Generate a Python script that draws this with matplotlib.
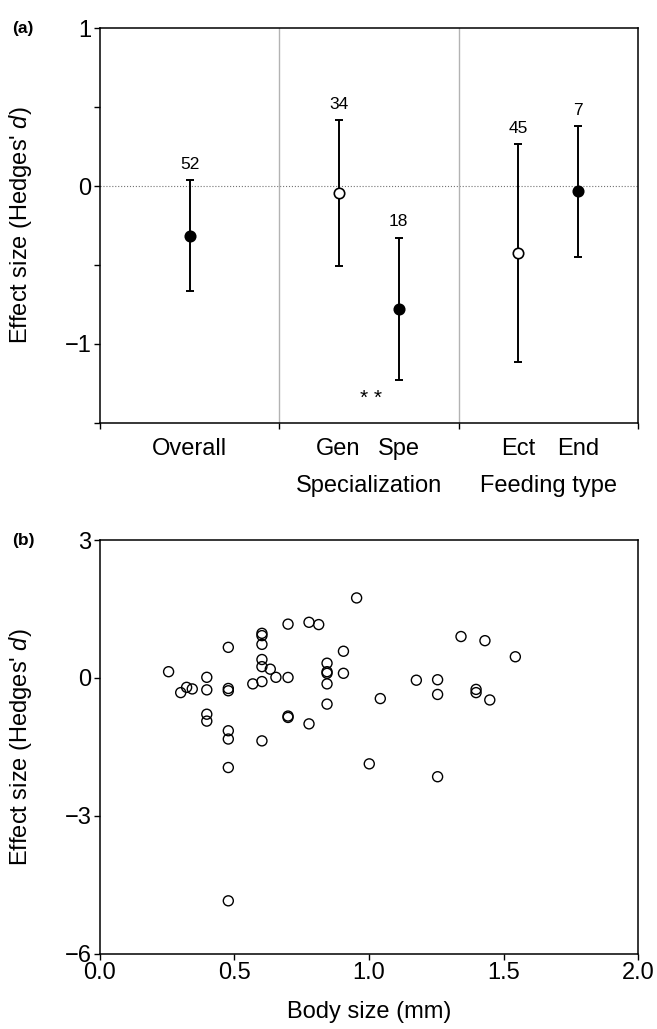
import numpy as np
import matplotlib
matplotlib.use("Agg")
import matplotlib.pyplot as plt
import matplotlib.transforms as mtransforms

plt.rcParams['font.family'] = ['Liberation Sans', 'DejaVu Sans']
plt.rcParams['mathtext.fontset'] = 'custom'
plt.rcParams['mathtext.it'] = 'Liberation Sans:italic'
plt.rcParams['mathtext.rm'] = 'Liberation Sans'

# panel (a): mean effect sizes with 95% CI
groups = ['Overall', 'Gen', 'Spe', 'Ect', 'End']
group_x = [0.5, 1.33, 1.665, 2.33, 2.665]
means = [-0.315, -0.045, -0.78, -0.426, -0.034]
ci_low = [-0.667, -0.508, -1.229, -1.116, -0.447]
ci_high = [0.036, 0.417, -0.327, 0.265, 0.381]
n_studies = [52, 34, 18, 45, 7]
filled = [True, False, True, False, True]
sections = ['Specialization', 'Feeding type']

# panel (b): effect size vs body size
body_size = [0.255, 0.300, 0.322, 0.343, 0.397, 0.397, 0.397, 0.397,
             0.477, 0.477, 0.477, 0.477, 0.477, 0.477, 0.477,
             0.568, 0.602, 0.602, 0.602, 0.602, 0.602, 0.602, 0.602,
             0.633, 0.654, 0.699, 0.699, 0.699, 0.699,
             0.777, 0.813, 0.777, 0.844, 0.844, 0.844, 0.844, 0.844,
             0.905, 0.905, 0.954, 1.001, 1.042,
             1.176, 1.255, 1.255, 1.255, 1.342, 1.431, 1.544,
             1.398, 1.398, 1.449]
effect = [0.135, -0.32, -0.205, -0.24, 0.013, -0.26, -0.79, -0.94,
          0.665, -0.23, -0.28, -1.15, -1.33, -1.95, -4.85,
          -0.13, 0.97, 0.92, 0.73, 0.40, 0.245, -0.08, -1.37,
          0.19, 0.013, 1.17, 0.01, -0.83, -0.86,
          1.21, 1.16, -1.0, 0.32, 0.135, 0.10, -0.13, -0.57,
          0.58, 0.10, 1.74, -1.87, -0.45,
          -0.05, -0.04, -0.36, -2.15, 0.90, 0.81, 0.46,
          -0.25, -0.32, -0.48]

LABEL_FS = 17
ylabel = r"Effect size (Hedges' $\it{d}$)"

fig = plt.figure(figsize=(6.57, 10.29), dpi=100)
ax1 = fig.add_axes([0.1522, 0.5893, 0.8189, 0.3832])
ax2 = fig.add_axes([0.1522, 0.0732, 0.8189, 0.4020])

for ax in (ax1, ax2):
    for sp in ax.spines.values():
        sp.set_linewidth(1.1)
    ax.tick_params(direction='out', length=4, width=1.0, labelsize=LABEL_FS, pad=2)

# --- panel (a)
ax1.axhline(0, color='0.45', lw=0.8, ls=':', zorder=1)
for xd in (1, 2):
    ax1.axvline(xd, color='0.7', lw=1.0, zorder=1)

for x, m, lo, hi, n, f in zip(group_x, means, ci_low, ci_high, n_studies, filled):
    ax1.errorbar(x, m, yerr=[[m - lo], [hi - m]], fmt='none', ecolor='black',
                 elinewidth=1.4, capsize=3, capthick=1.4, zorder=2)
    ax1.plot(x, m, 'o', ms=7.5, mfc='black' if f else 'white', mec='black',
             mew=1.2, zorder=3)
    ax1.annotate(str(n), (x, hi), xytext=(0, 6), textcoords='offset points',
                 ha='center', va='bottom', fontsize=12.5)

ax1.text(1.51, -1.345, '* *', ha='center', va='center', fontsize=15)

ax1.set_xlim(0, 3)
ax1.set_ylim(-1.5, 1)
ax1.set_xticks([0, 1, 2, 3])
ax1.set_xticklabels([])
ax1.set_yticks([-1.5, -1, -0.5, 0, 0.5, 1])
ax1.set_yticklabels(['', '\u22121', '', '0', '', '1'])

trans = mtransforms.blended_transform_factory(ax1.transData, ax1.transAxes)
for g, x in zip(groups, group_x):
    ax1.text(x, -0.066, g, transform=trans, ha='center', va='center',
             fontsize=LABEL_FS)
for s, x in zip(sections, [1.5, 2.5]):
    ax1.text(x, -0.162, s, transform=trans, ha='center', va='center',
             fontsize=LABEL_FS)

ax1.set_ylabel(ylabel, fontsize=LABEL_FS)
ax1.yaxis.set_label_coords(-0.122, 0.5)
ax1.text(-0.143, 1.0, '(a)', transform=ax1.transAxes, ha='center', va='center',
         fontsize=12.5, fontweight='bold')

# --- panel (b)
ax2.scatter(body_size, effect, s=52, facecolors='none', edgecolors='black',
            linewidths=1.0, zorder=3)
ax2.set_xlim(0, 2)
ax2.set_ylim(-6, 3)
ax2.set_xticks([0, 0.5, 1.0, 1.5, 2.0])
ax2.set_xticklabels(['0.0', '0.5', '1.0', '1.5', '2.0'])
ax2.set_yticks([-6, -3, 0, 3])
ax2.set_xlabel('Body size (mm)', fontsize=LABEL_FS, labelpad=12)
ax2.set_ylabel(ylabel, fontsize=LABEL_FS)
ax2.yaxis.set_label_coords(-0.122, 0.5)
ax2.text(-0.143, 1.0, '(b)', transform=ax2.transAxes, ha='center', va='center',
         fontsize=12.5, fontweight='bold')

fig.savefig('out.png', dpi=100)
